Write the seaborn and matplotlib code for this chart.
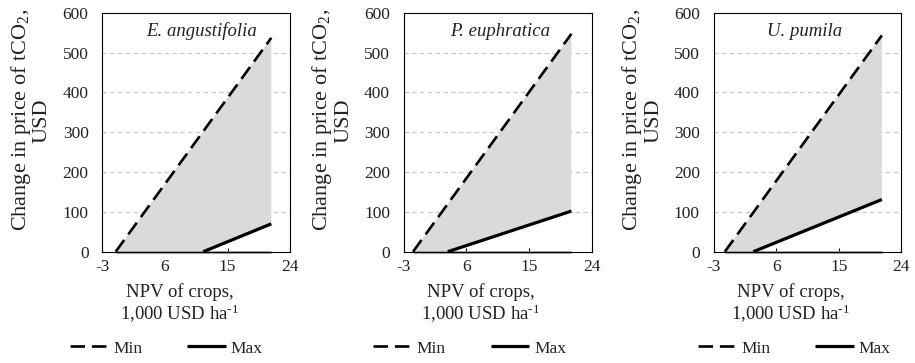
import numpy as np
import pandas as pd
import matplotlib
matplotlib.use("Agg")
import matplotlib.pyplot as plt
import seaborn as sns

# ---- data ----
species = ["E. angustifolia", "P. euphratica", "U. pumila"]
min_x = [[-1.1, 21.3], [-1.7, 21.1], [-1.4, 21.2]]
min_y = [[0, 537], [0, 547], [0, 543]]
max_x = [[11.5, 21.3], [3.3, 21.1], [2.7, 21.2]]
max_y = [[0, 70], [0, 102], [0, 131]]
x_ticks = [-3, 6, 15, 24]
y_ticks = [0, 100, 200, 300, 400, 500, 600]

sns.set_theme(style="white")
plt.rcParams["font.family"] = ["Liberation Serif", "DejaVu Serif"]
plt.rcParams["mathtext.fontset"] = "custom"
plt.rcParams["mathtext.rm"] = "Liberation Serif"
plt.rcParams["mathtext.it"] = "Liberation Serif:italic"
plt.rcParams["axes.unicode_minus"] = False

fig = plt.figure(figsize=(9.15, 3.63), dpi=100)
lefts = [0.112, 0.4415, 0.780]
width = 0.205
bottom = 0.3066
height = 0.965 - 0.3066
title_x = [0.53, 0.51, 0.485]
legend_x = [0.34, 0.35, 0.43]

fill_col = "#dadada"
for i, sp in enumerate(species):
    ax = fig.add_axes([lefts[i], bottom, width, height])
    poly_x = list(min_x[i]) + list(max_x[i])[::-1]
    poly_y = list(min_y[i]) + list(max_y[i])[::-1]
    ax.fill(poly_x, poly_y, color=fill_col, lw=0, zorder=1)
    ax.plot([min_x[i][0], max_x[i][1]], [0, 0], color="#9a9a9a", lw=2.0,
            zorder=1.5, clip_on=False, solid_capstyle="butt")
    df_min = pd.DataFrame({"x": min_x[i], "y": min_y[i]})
    df_max = pd.DataFrame({"x": max_x[i], "y": max_y[i]})
    sns.lineplot(data=df_min, x="x", y="y", ax=ax, color="black", lw=1.9,
                 label="Min", zorder=3)
    ax.lines[-1].set_dashes((5.5, 2.6))
    sns.lineplot(data=df_max, x="x", y="y", ax=ax, color="black", lw=2.3,
                 label="Max", zorder=3)
    for ln in ax.lines:
        ln.set_solid_capstyle("butt")
        ln.set_dash_capstyle("butt")

    ax.set_xlim(-3, 24)
    ax.set_ylim(0, 600)
    ax.set_xticks(x_ticks)
    ax.set_yticks(y_ticks)
    ax.tick_params(axis="x", direction="in", length=3, width=0.8, labelsize=12.5,
                   pad=5, color="black", bottom=True)
    ax.tick_params(axis="y", length=0, labelsize=12.5, pad=10)
    for t in ax.get_xticklabels() + ax.get_yticklabels():
        t.set_color("#222222")
    for s in ax.spines.values():
        s.set_color("black")
        s.set_linewidth(0.8)
        s.set_visible(True)
    for yv in y_ticks[1:-1]:
        ax.axhline(yv, color="#c4c4c4", lw=0.8, ls=(0, (4, 3)), zorder=0.5)

    ax.set_xlabel("NPV of crops,\n1,000 USD ha$^{\\text{-1}}$", fontsize=13.5,
                  labelpad=6, color="#222222", linespacing=1.1)
    ax.xaxis.label.set_x(0.41)
    ax.set_ylabel("Change in price of tCO$_2$,\nUSD", fontsize=16,
                  color="#222222", linespacing=1.0)
    ax.yaxis.set_label_coords(-0.27, 0.55)
    ax.text(title_x[i], 0.922, sp, transform=ax.transAxes, ha="center",
            va="center", fontsize=13.5, style="italic", color="#222222")
    leg = ax.legend(loc="center", bbox_to_anchor=(legend_x[i], -0.405), ncol=2,
                    frameon=False, fontsize=12.5, handlelength=2.2,
                    handletextpad=0.3, columnspacing=2.6)
    for t in leg.get_texts():
        t.set_color("#222222")

fig.savefig("out.png", dpi=100)
